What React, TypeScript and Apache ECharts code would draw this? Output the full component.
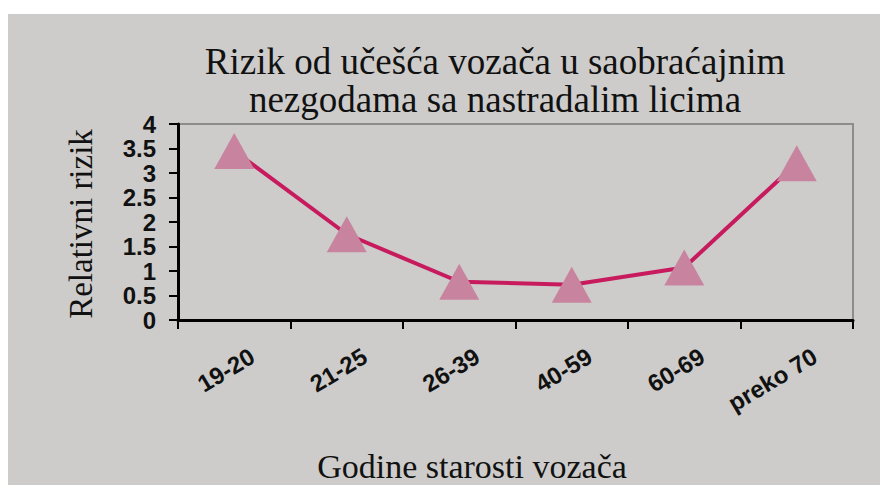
import React, { useEffect, useRef } from "react";
import * as echarts from "echarts";

const titleLines = ["Rizik od učešća vozača u saobraćajnim", "nezgodama sa nastradalim licima"];
const categories = ["19-20", "21-25", "26-39", "40-59", "60-69", "preko 70"];
const riskValues = [3.45, 1.75, 0.78, 0.72, 1.07, 3.2];
const yAxisTitle = "Relativni rizik";
const xAxisTitle = "Godine starosti vozača";

export default function App() {
  const ref = useRef<HTMLDivElement>(null);
  useEffect(() => {
    if (!ref.current) return;
    const chart = echarts.init(ref.current, null, { renderer: "svg" });
    chart.setOption({
      animation: false,
      backgroundColor: "#ffffff",
      graphic: [
        {
          type: "rect",
          z: -10,
          silent: true,
          shape: { x: 8, y: 14, width: 872, height: 471 },
          style: { fill: "#cdccca" },
        },
        {
          type: "text",
          x: 81,
          y: 224,
          rotation: Math.PI / 2,
          style: {
            text: yAxisTitle,
            font: "33px 'Liberation Serif'",
            fill: "#111",
            textAlign: "center",
            textVerticalAlign: "middle",
          },
        },
        {
          type: "text",
          x: 472,
          y: 466,
          style: {
            text: xAxisTitle,
            font: "34px 'Liberation Serif'",
            fill: "#111",
            textAlign: "center",
            textVerticalAlign: "middle",
          },
        },
      ],
      title: {
        text: titleLines.join("\n"),
        left: 490,
        top: 37,
        textAlign: "center",
        textStyle: {
          fontFamily: "Liberation Serif",
          fontWeight: "normal",
          fontSize: 37,
          lineHeight: 38,
          color: "#111",
        },
      },
      grid: {
        left: 178,
        right: 27,
        top: 124,
        bottom: 165,
        show: true,
        borderColor: "#8c8c8c",
        borderWidth: 2,
        backgroundColor: "transparent",
      },
      xAxis: {
        type: "category",
        data: categories,
        boundaryGap: true,
        axisLine: { lineStyle: { color: "#000", width: 3 } },
        axisTick: { show: true, length: 9, lineStyle: { color: "#000", width: 2 } },
        axisLabel: {
          rotate: 31,
          margin: 45,
          padding: [0, -21, 0, 0],
          fontFamily: "Liberation Sans",
          fontWeight: "bold",
          fontSize: 24,
          color: "#111",
          interval: 0,
        },
        splitLine: { show: false },
      },
      yAxis: {
        type: "value",
        min: 0,
        max: 4,
        interval: 0.5,
        axisLine: { show: true, lineStyle: { color: "#000", width: 3 } },
        axisTick: { show: true, length: 9, lineStyle: { color: "#000", width: 2 } },
        axisLabel: {
          margin: 22,
          fontFamily: "Liberation Sans",
          fontWeight: "bold",
          fontSize: 24,
          color: "#111",
        },
        splitLine: { show: false },
      },
      series: [
        {
          type: "line",
          data: riskValues,
          symbol: "triangle",
          symbolSize: [40, 36],
          lineStyle: { color: "#c71b5e", width: 4 },
          itemStyle: { color: "#c8849f", borderWidth: 0 },
        },
      ],
    });
    return () => chart.dispose();
  }, []);
  return <div ref={ref} style={{ width: 880, height: 485, position: "fixed", left: 0, top: 0 }} />;
}
